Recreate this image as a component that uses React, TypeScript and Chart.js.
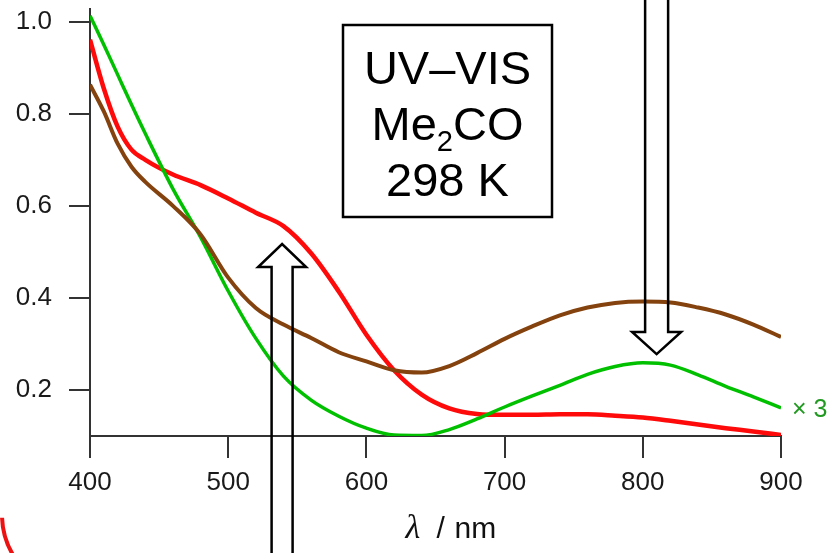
import { useEffect, useRef } from "react";
import { Chart, registerables } from "chart.js";
Chart.register(...registerables);

const wavelengths = [400, 410, 420, 430, 440, 460, 480, 500, 520, 540, 560, 580, 600, 620, 640, 660, 680, 700, 720, 740, 760, 780, 800, 820, 840, 860, 880, 900];
const redValues = [0.961, 0.855, 0.772, 0.722, 0.700, 0.668, 0.645, 0.616, 0.585, 0.556, 0.497, 0.414, 0.320, 0.243, 0.190, 0.160, 0.148, 0.146, 0.146, 0.147, 0.147, 0.144, 0.140, 0.133, 0.125, 0.117, 0.110, 0.102];
const greenValues = [1.013, 0.950, 0.885, 0.820, 0.757, 0.637, 0.532, 0.415, 0.312, 0.230, 0.178, 0.143, 0.117, 0.102, 0.101, 0.114, 0.137, 0.163, 0.187, 0.210, 0.234, 0.251, 0.259, 0.254, 0.233, 0.208, 0.185, 0.161];
const brownValues = [0.863, 0.805, 0.735, 0.685, 0.652, 0.600, 0.538, 0.444, 0.378, 0.342, 0.313, 0.282, 0.262, 0.243, 0.238, 0.252, 0.280, 0.311, 0.338, 0.362, 0.379, 0.389, 0.392, 0.390, 0.379, 0.364, 0.342, 0.315];
const xTicks = [400, 500, 600, 700, 800, 900];
const yTicks = [0.2, 0.4, 0.6, 0.8, 1.0];
const boxLines = ["UV–VIS", "Me|2|CO", "298 K"];
const scaleLabel = "× 3";
// arrows: [wavelength, tip value, head base value]
const arrowUp = [539, 0.517, 0.467];
const arrowDown = [810, 0.278, 0.326];

const SANS = '"Liberation Sans", Arial, sans-serif';

function pts(vals: number[]) {
  return wavelengths.map((w, i) => ({ x: w, y: vals[i] }));
}

const overlay = {
  id: "overlay",
  afterDraw(chart: any) {
    const ctx = chart.ctx as CanvasRenderingContext2D;
    const xs = chart.scales.x;
    const ys = chart.scales.y;
    const H = chart.height;
    ctx.save();
    ctx.strokeStyle = "#000";
    ctx.lineWidth = 2.5;
    ctx.lineJoin = "miter";

    const drawArrow = (cx: number, tipY: number, baseY: number, endY: number, sw: number, hw: number) => {
      ctx.beginPath();
      ctx.moveTo(cx - sw, endY);
      ctx.lineTo(cx - sw, baseY);
      ctx.lineTo(cx - hw, baseY);
      ctx.lineTo(cx, tipY);
      ctx.lineTo(cx + hw, baseY);
      ctx.lineTo(cx + sw, baseY);
      ctx.lineTo(cx + sw, endY);
      ctx.stroke();
    };
    drawArrow(xs.getPixelForValue(arrowUp[0]), ys.getPixelForValue(arrowUp[1]), ys.getPixelForValue(arrowUp[2]), H + 10, 10.5, 24);
    drawArrow(xs.getPixelForValue(arrowDown[0]), ys.getPixelForValue(arrowDown[1]), ys.getPixelForValue(arrowDown[2]), -10, 11.5, 24.5);

    // text box
    ctx.strokeRect(343, 25, 209, 192);
    ctx.fillStyle = "#000";
    const fs = 47;
    const cx = 447.5;
    const baselines = [84, 140, 196];
    ctx.textBaseline = "alphabetic";
    boxLines.forEach((line, i) => {
      const parts = line.split("|");
      if (parts.length === 1) {
        ctx.font = `${fs}px ${SANS}`;
        ctx.textAlign = "center";
        ctx.fillText(line, cx, baselines[i]);
      } else {
        ctx.textAlign = "left";
        ctx.font = `${fs}px ${SANS}`;
        const w0 = ctx.measureText(parts[0]).width;
        const w2 = ctx.measureText(parts[2]).width;
        ctx.font = `${fs * 0.62}px ${SANS}`;
        const w1 = ctx.measureText(parts[1]).width;
        let x = cx - (w0 + w1 + w2) / 2;
        ctx.font = `${fs}px ${SANS}`;
        ctx.fillText(parts[0], x, baselines[i]);
        x += w0;
        ctx.font = `${fs * 0.62}px ${SANS}`;
        ctx.fillText(parts[1], x, baselines[i] + 11);
        x += w1;
        ctx.font = `${fs}px ${SANS}`;
        ctx.fillText(parts[2], x, baselines[i]);
      }
    });

    // x3 label at end of green curve
    const gx = xs.getPixelForValue(wavelengths[wavelengths.length - 1]);
    const gy = ys.getPixelForValue(greenValues[greenValues.length - 1]);
    ctx.fillStyle = "#229a22";
    ctx.font = `25px ${SANS}`;
    ctx.textAlign = "left";
    ctx.textBaseline = "middle";
    ctx.fillText(scaleLabel, gx + 11, gy + 2);

    // axis title: λ / nm
    const mid = (chart.chartArea.left + chart.chartArea.right) / 2;
    ctx.fillStyle = "#111";
    ctx.textBaseline = "alphabetic";
    ctx.textAlign = "left";
    ctx.font = `italic 34px "Liberation Serif", "Times New Roman", serif`;
    ctx.fillText("λ", mid - 30, 538);
    ctx.font = `30px ${SANS}`;
    ctx.fillText("/", mid + 1, 538);
    ctx.fillText("nm", mid + 19, 538);

    // red arc fragment at bottom-left corner
    ctx.strokeStyle = "#ee1111";
    ctx.lineWidth = 4;
    ctx.beginPath();
    ctx.arc(80, 515, 78, (150 * Math.PI) / 180, (178 * Math.PI) / 180);
    ctx.stroke();
    ctx.restore();
  },
};

export default function App() {
  const ref = useRef<HTMLCanvasElement>(null);
  useEffect(() => {
    if (!ref.current) return;
    const font = { family: SANS, size: 26 };
    const chart = new Chart(ref.current, {
      type: "line",
      data: {
        datasets: [
          { data: pts(brownValues), borderColor: "#84420e", borderWidth: 4, pointRadius: 0, cubicInterpolationMode: "monotone", fill: false },
          { data: pts(greenValues), borderColor: "#00c000", borderWidth: 3.5, pointRadius: 0, cubicInterpolationMode: "monotone", fill: false },
          { data: pts(redValues), borderColor: "#ff0a0a", borderWidth: 4.5, pointRadius: 0, cubicInterpolationMode: "monotone", fill: false },
        ],
      },
      options: {
        animation: false,
        responsive: false,
        devicePixelRatio: 1,
        layout: { padding: { top: 9, right: 47, left: 0, bottom: 0 } },
        plugins: { legend: { display: false }, tooltip: { enabled: false } },
        events: [],
        scales: {
          x: {
            type: "linear",
            min: 400,
            max: 900,
            afterBuildTicks: (s: any) => {
              s.ticks = xTicks.map((v) => ({ value: v }));
            },
            afterFit: (s: any) => {
              s.height = 117;
              s.paddingLeft = 0;
              s.paddingRight = 0;
              s.paddingTop = 0;
              s.paddingBottom = 0;
            },
            ticks: { font, color: "#1a1a1a", padding: 9, maxRotation: 0, autoSkip: false, callback: (v: any) => String(v) },
            grid: { display: true, drawOnChartArea: false, drawTicks: true, tickLength: 22, color: "#333", lineWidth: 2 },
            border: { display: true, color: "#333", width: 2 },
          },
          y: {
            type: "linear",
            min: 0.1,
            max: 1.0276,
            afterBuildTicks: (s: any) => {
              s.ticks = yTicks.map((v) => ({ value: v }));
            },
            afterFit: (s: any) => {
              s.width = 90;
              s.paddingLeft = 0;
              s.paddingRight = 0;
              s.paddingTop = 0;
              s.paddingBottom = 0;
            },
            ticks: { font, color: "#1a1a1a", padding: 17, autoSkip: false, callback: (v: any) => Number(v).toFixed(1) },
            grid: { display: true, drawOnChartArea: false, drawTicks: true, tickLength: 21, color: "#333", lineWidth: 2 },
            border: { display: true, color: "#333", width: 2 },
          },
        },
      },
      plugins: [overlay],
    } as any);
    return () => chart.destroy();
  }, []);
  return (
    <div style={{ position: "fixed", left: 0, top: 0, width: 828, height: 553, background: "#fff" }}>
      <canvas ref={ref} width={828} height={553} style={{ display: "block" }} />
    </div>
  );
}
